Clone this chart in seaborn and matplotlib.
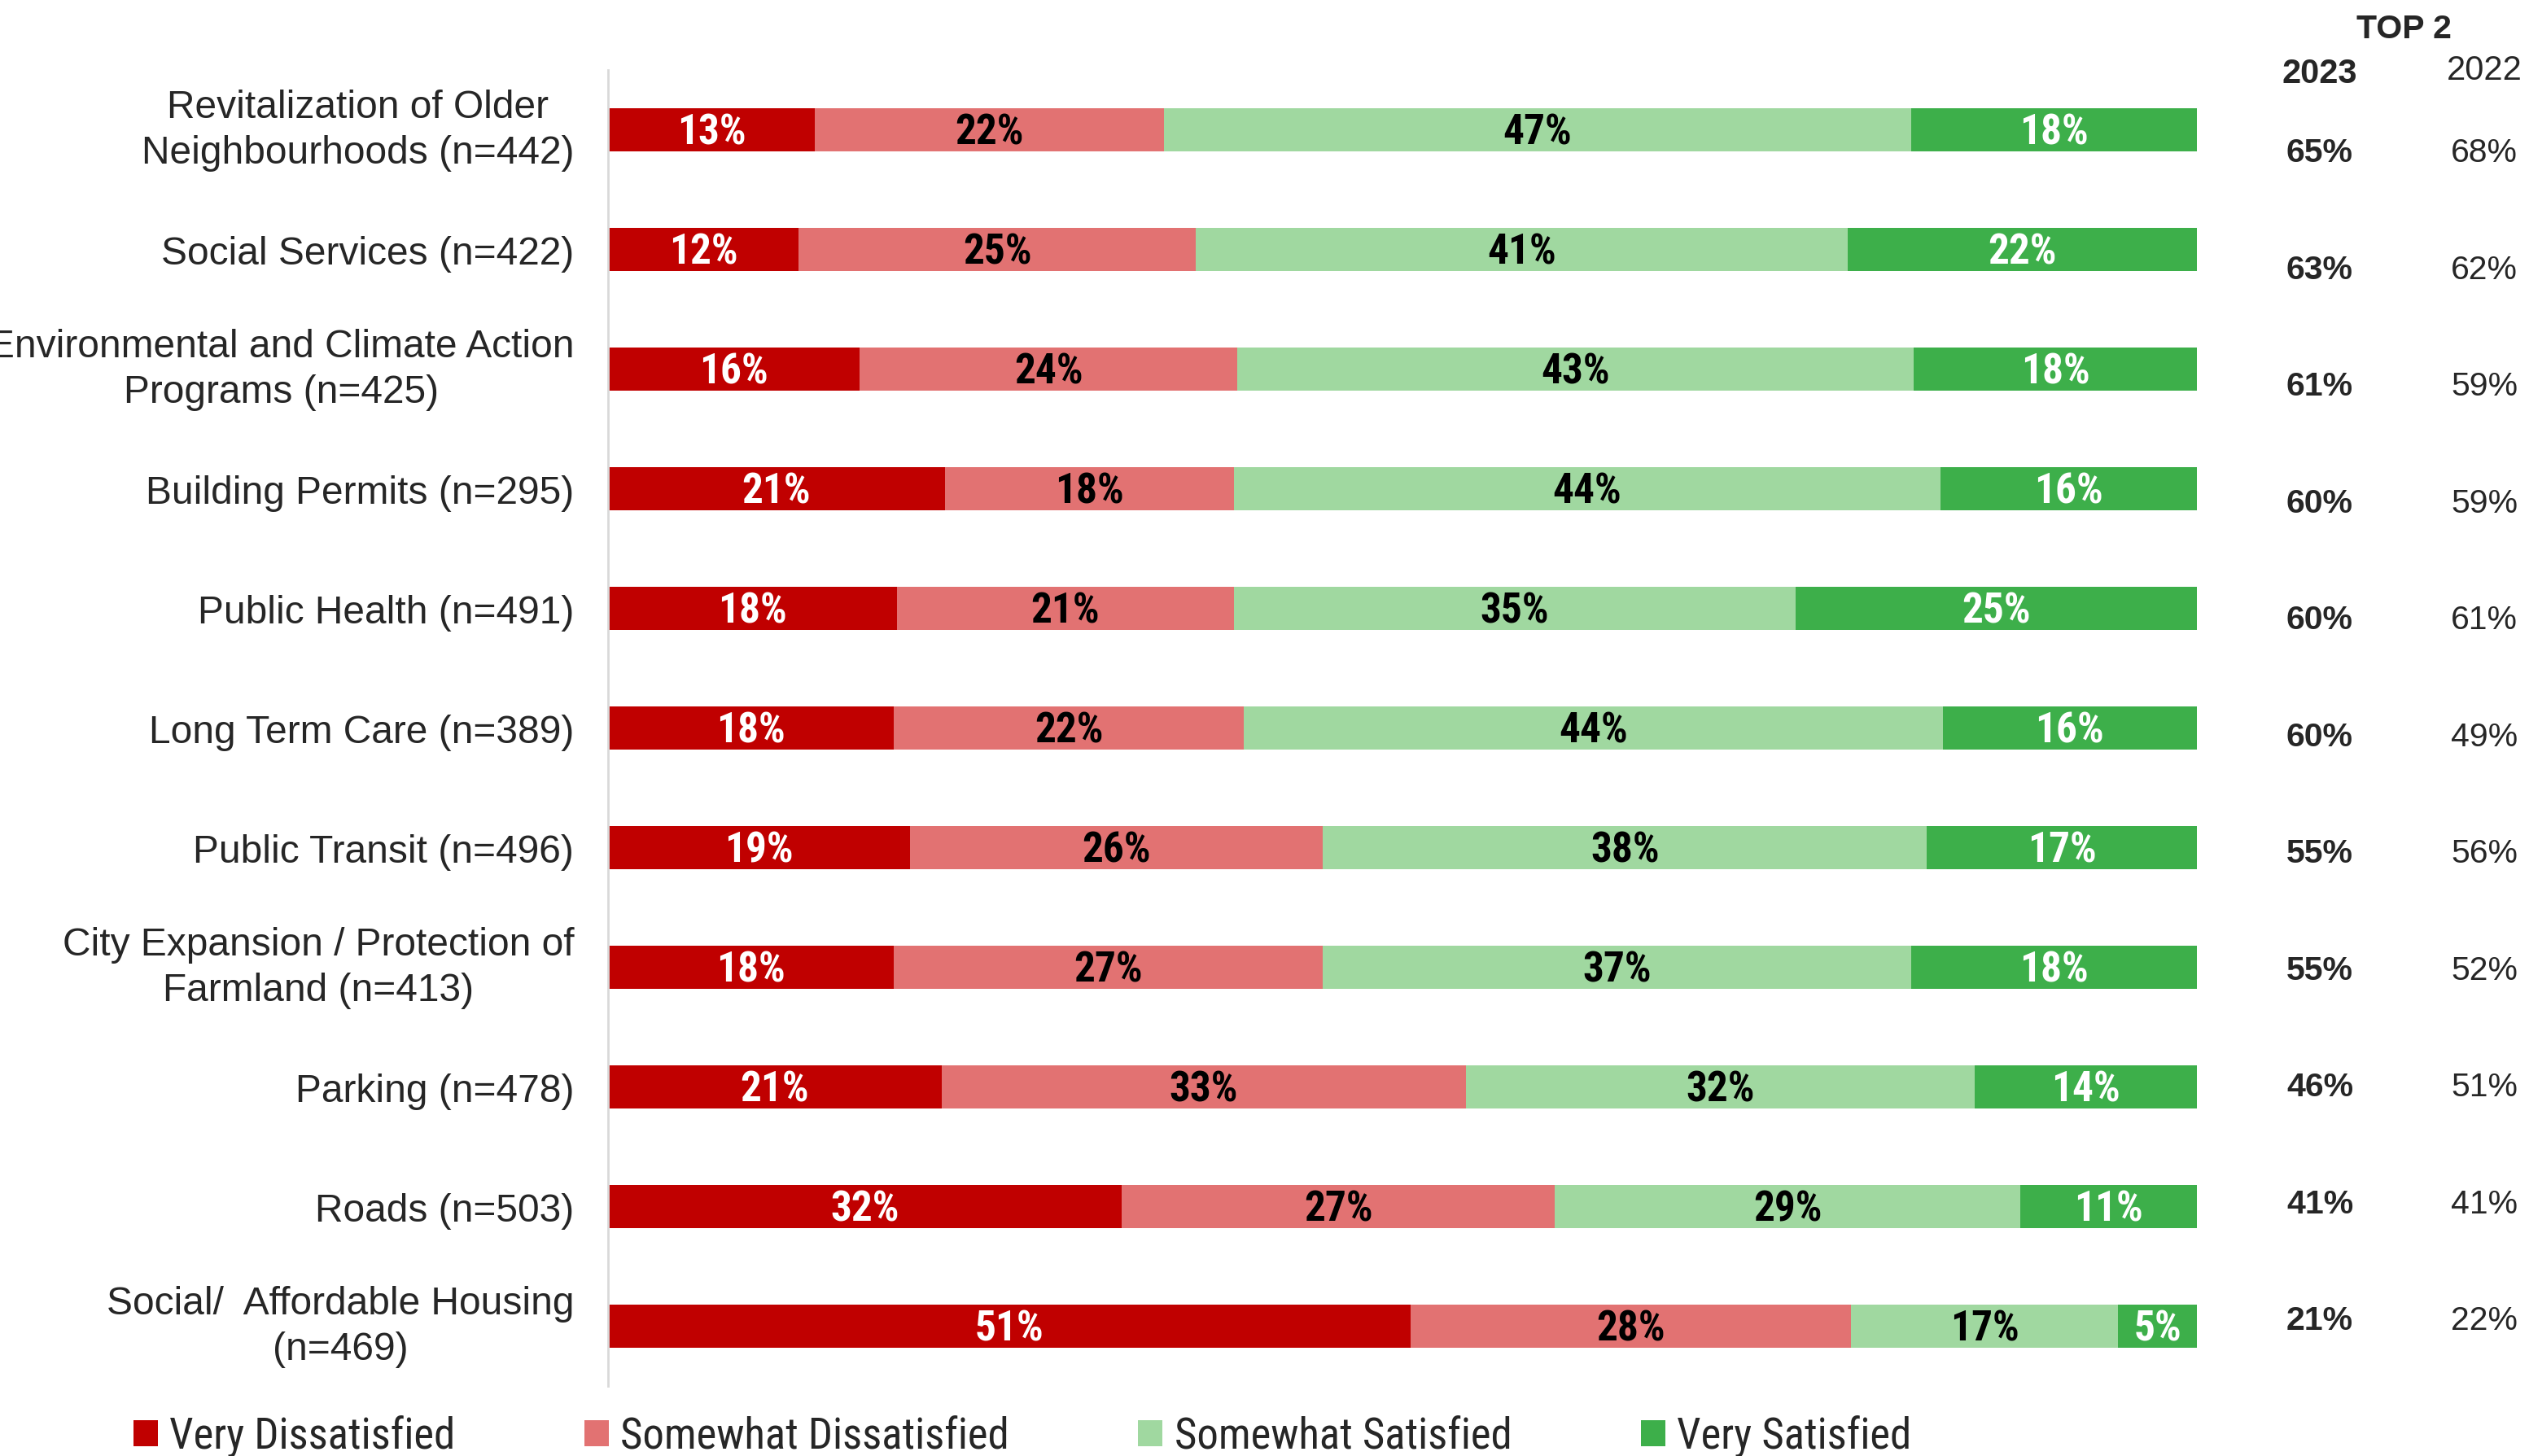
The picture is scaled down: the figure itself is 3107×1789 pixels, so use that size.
import numpy as np
import pandas as pd
import matplotlib
matplotlib.use("Agg")
import matplotlib.pyplot as plt
from matplotlib import font_manager
from matplotlib.patches import Patch
from matplotlib.transforms import blended_transform_factory
import seaborn as sns

# ---- data -------------------------------------------------------------
categories = [
    "Revitalization of Older\nNeighbourhoods (n=442)",
    "Social Services (n=422)",
    "Environmental and Climate Action\nPrograms (n=425)",
    "Building Permits (n=295)",
    "Public Health (n=491)",
    "Long Term Care (n=389)",
    "Public Transit (n=496)",
    "City Expansion / Protection of\nFarmland (n=413)",
    "Parking (n=478)",
    "Roads (n=503)",
    "Social/  Affordable Housing\n(n=469)",
]
very_dissatisfied = [13, 12, 16, 21, 18, 18, 19, 18, 21, 32, 51]
somewhat_dissatisfied = [22, 25, 24, 18, 21, 22, 26, 27, 33, 27, 28]
somewhat_satisfied = [47, 41, 43, 44, 35, 44, 38, 37, 32, 29, 17]
very_satisfied = [18, 22, 18, 16, 25, 16, 17, 18, 14, 11, 5]
top2_2023 = [65, 63, 61, 60, 60, 60, 55, 55, 46, 41, 21]
top2_2022 = [68, 62, 59, 59, 61, 49, 56, 52, 51, 41, 22]

series_names = ["Very Dissatisfied", "Somewhat Dissatisfied",
                "Somewhat Satisfied", "Very Satisfied"]
series_colors = ["#C00000", "#E27272", "#A0D8A0", "#3DAF4A"]
label_colors = ["white", "black", "black", "white"]

# ---- fonts --------------------------------------------------------------
sns.set_theme(style="white")
installed = {f.name for f in font_manager.fontManager.ttflist}


def pick(*names):
    for n in names:
        if n in installed:
            return n
    return "DejaVu Sans"


sans = pick("Liberation Sans", "Arial", "DejaVu Sans")
narrow = pick("Liberation Sans Narrow", "Roboto Condensed", "Lato", "DejaVu Sans")
plt.rcParams["font.family"] = [sans, "DejaVu Sans"]

# ---- frame ---------------------------------------------------------------
values = np.array([very_dissatisfied, somewhat_dissatisfied,
                   somewhat_satisfied, very_satisfied], dtype=float).T
shares = values / values.sum(axis=1, keepdims=True) * 100  # 100% stacked
cum = np.cumsum(shares, axis=1)

df = pd.DataFrame({"category": categories})
for j, name in enumerate(series_names):
    df[name] = cum[:, j]

W, H = 3107, 1790
fig = plt.figure(figsize=(W / 100, H / 100), dpi=100)
ax = fig.add_axes([747 / W, 1 - 1704 / H, (2699 - 747) / W, (1704 - 87) / H])

# draw the stacked layers back to front, each as the running total
for j in range(len(series_names) - 1, -1, -1):
    sns.barplot(data=df, x=series_names[j], y="category", orient="h",
                color=series_colors[j], saturation=1, width=0.36,
                linewidth=0, errorbar=None, ax=ax)

n = len(categories)
ax.set_xlim(0, 100)
ax.set_ylim(n - 0.5, -0.5)
ax.set_xlabel("")
ax.set_ylabel("")
ax.set_xticks([])
ax.set_yticks(range(n))
ticklabels = ax.set_yticklabels(categories, fontsize=34.5,
                                family=[sans, "DejaVu Sans"],
                                multialignment="center", linespacing=1.32)
for t in ticklabels:
    if "\n" in t.get_text():
        t.set_verticalalignment("center")
ax.tick_params(axis="y", length=0, pad=30)
for side in ("top", "right", "bottom"):
    ax.spines[side].set_visible(False)
ax.spines["left"].set_color("#D9D9D9")
ax.spines["left"].set_linewidth(2)

# segment value labels
for i in range(n):
    start = 0.0
    for j in range(len(series_names)):
        w = shares[i, j]
        ax.text(start + w / 2, i + 0.02, f"{int(values[i, j])}%",
                ha="center", va="center", color=label_colors[j],
                fontsize=37, fontweight="bold", family=[narrow, "DejaVu Sans"])
        start += w

# Top-2 summary columns
trans = blended_transform_factory(fig.transFigure, ax.transData)
ys = np.linspace(0.19, 9.95, n)
for i in range(n):
    ax.text(2850 / W, ys[i], f"{top2_2023[i]}%", transform=trans,
            ha="center", va="center", fontsize=29.5, fontweight="bold",
            clip_on=False)
    ax.text(3052 / W, ys[i], f"{top2_2022[i]}%", transform=trans,
            ha="center", va="center", fontsize=29.5, clip_on=False)

fig.text(2953 / W, 1 - 36 / H, "TOP 2", ha="center", va="center",
         fontsize=29.5, fontweight="bold")
fig.text(2850 / W, 1 - 91 / H, "2023", ha="center", va="center",
         fontsize=30, fontweight="bold")
fig.text(3052 / W, 1 - 87 / H, "2022", ha="center", va="center",
         fontsize=30)

# legend
handles = [Patch(facecolor=c, edgecolor="none") for c in series_colors]
fig.legend(handles, series_names, loc="center left",
           bbox_to_anchor=(164 / W, 1 - 1766 / H), ncol=4, frameon=False,
           prop={"family": [narrow, "DejaVu Sans"], "size": 38},
           handlelength=0.57, handleheight=0.57, handletextpad=0.27,
           columnspacing=3.0, borderpad=0, borderaxespad=0)

fig.savefig("out.png", dpi=100)
